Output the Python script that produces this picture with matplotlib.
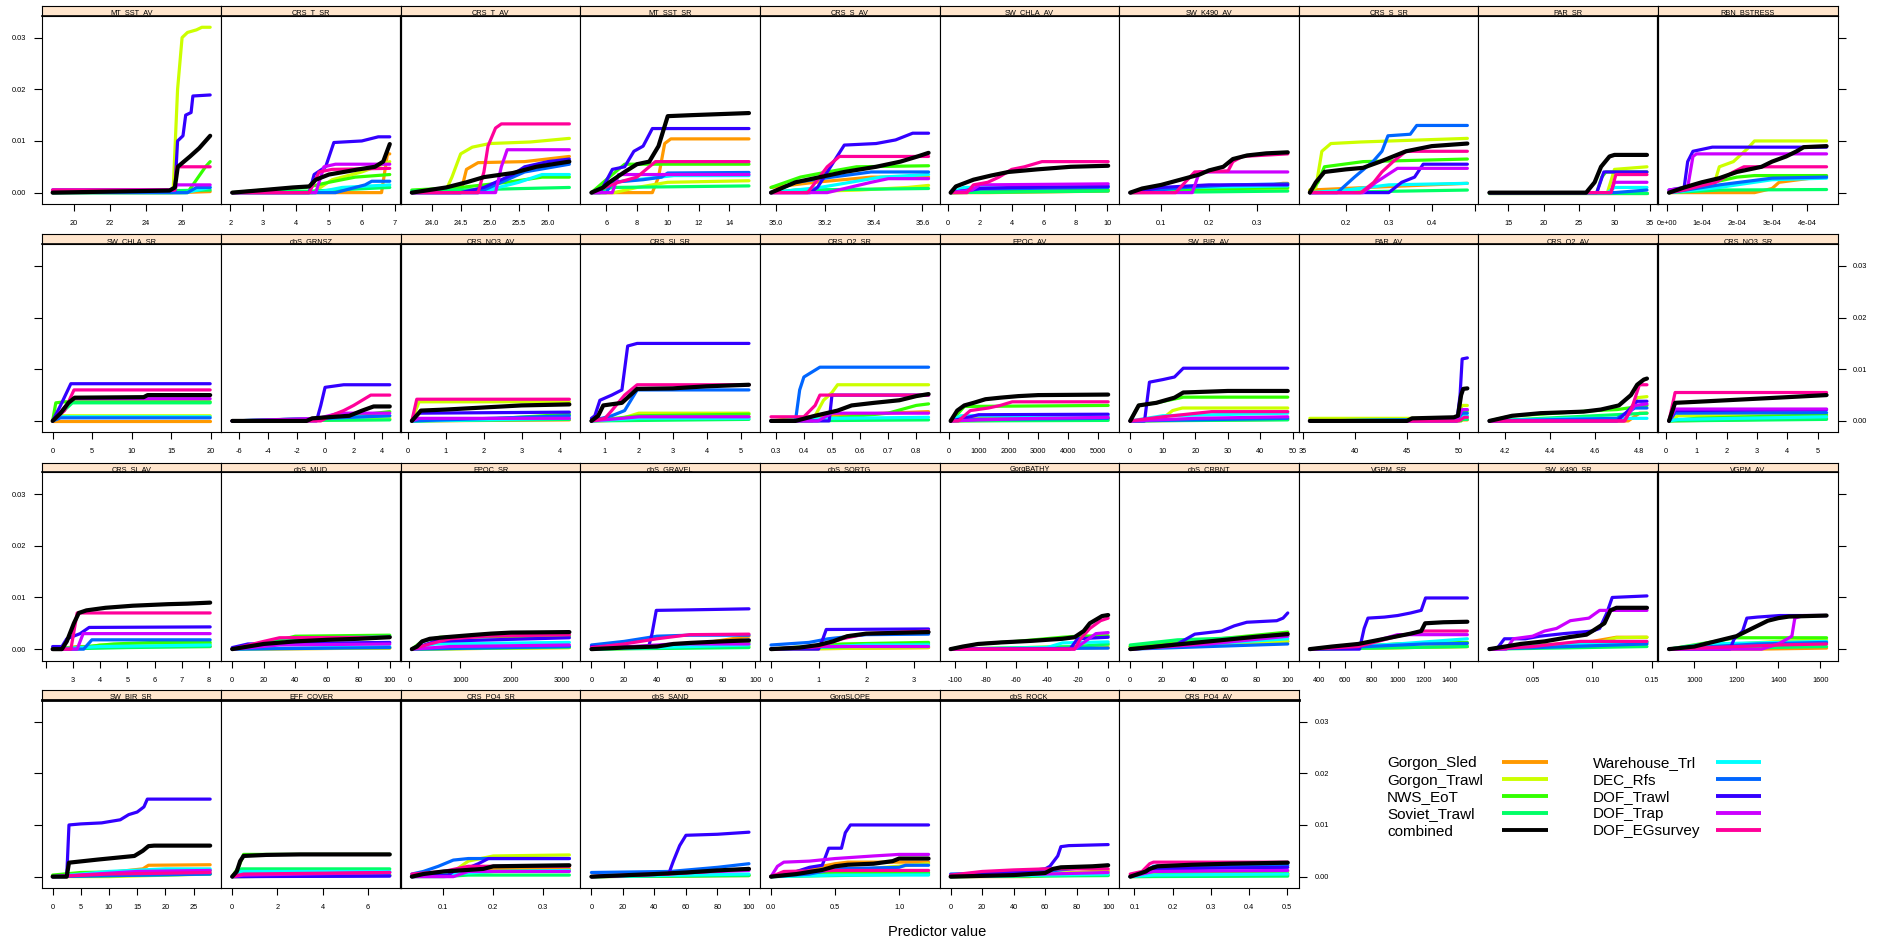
import matplotlib
matplotlib.use("Agg")
import matplotlib.pyplot as plt

plt.rcParams['font.family'] = ['Liberation Sans', 'DejaVu Sans']

# ---------------------------------------------------------------- series
SERIES = ["Gorgon_Sled", "Gorgon_Trawl", "NWS_EoT", "Soviet_Trawl", "Warehouse_Trl",
          "DEC_Rfs", "DOF_Trawl", "DOF_Trap", "DOF_EGsurvey", "combined"]
KEYS = ["sled", "gtrawl", "nws", "soviet", "ware", "dec", "doft", "trap", "egs", "comb"]
COLORS = ["#FF9900", "#CCFF00", "#33FF00", "#00FF66", "#00FFFF",
          "#0066FF", "#3300FF", "#CC00FF", "#FF0099", "#000000"]
Y_UNIT = 1e-3          # curve values below are in thousandths (cumulative importance)
Y_TICKS = ["0.00", "0.01", "0.02", "0.03"]

# ---------------------------------------------------------------- row 1
MT_SST_AV = dict(ticks=["20", "22", "24", "26"],
    sled=[(18.81, 0), (25.8, 0), (27.56, 0.2)],
    gtrawl=[(18.81, 0), (25.5, 0), (25.75, 20), (26.0, 30), (26.3, 31), (26.8, 31.5), (27.1, 32), (27.56, 32)],
    nws=[(18.81, 0), (26.3, 0), (27.3, 5), (27.56, 6)],
    soviet=[(18.81, 0), (27.56, 0.5)],
    ware=[(18.81, 0), (26.2, 0), (27.56, 1.0)],
    dec=[(18.81, 0), (26.3, 0), (26.8, 1), (27.56, 1)],
    doft=[(18.81, 0.5), (25.6, 0.5), (25.75, 10), (26.05, 11), (26.2, 15), (26.5, 15.5), (26.6, 18.7), (27.56, 18.9)],
    trap=[(18.81, 0.5), (25.6, 0.5), (25.7, 1.5), (27.56, 1.5)],
    egs=[(18.81, 0.5), (25.6, 0.5), (25.7, 5), (27.56, 5)],
    comb=[(18.81, 0), (25.3, 0.4), (25.6, 1), (25.76, 5), (26.44, 7), (26.95, 8.6), (27.56, 11)])

CRS_T_SR = dict(ticks=["2", "3", "4", "5", "6", "7"],
    sled=[(2.06, 0), (6.6, 0), (6.78, 7.5), (6.85, 7.5)],
    gtrawl=[(2.06, 0), (4.5, 0), (5.1, 2.5), (6.0, 4), (6.85, 6)],
    nws=[(2.06, 0), (3, 0.5), (4.3, 1), (5, 2), (5.8, 3), (6.85, 3.5)],
    soviet=[(2.06, 0), (4.5, 0.3), (6.85, 1)],
    ware=[(2.06, 0), (4.6, 0), (5.4, 1), (6.85, 1.5)],
    dec=[(2.06, 0), (5.2, 0), (6.1, 1.5), (6.3, 2.2), (6.85, 2.2)],
    doft=[(2.06, 0), (4.4, 0), (4.55, 3.5), (4.9, 5), (5.15, 9.7), (6.0, 10), (6.5, 10.8), (6.85, 10.8)],
    trap=[(2.06, 0), (4.6, 0), (4.85, 5), (5.2, 5.5), (6.85, 5.5)],
    egs=[(2.06, 0), (4.4, 0), (4.7, 4), (5.1, 4.5), (6.85, 4.7)],
    comb=[(2.06, 0), (3, 0.5), (3.9, 1), (4.4, 1.2), (4.6, 2.5), (5.0, 3.5), (5.9, 4.5), (6.4, 5), (6.65, 6), (6.85, 9.4)])

CRS_T_AV = dict(ticks=["24.0", "24.5", "25.0", "25.5", "26.0"],
    sled=[(23.66, 0), (24.5, 0), (24.6, 4.5), (24.8, 5.8), (25.6, 6), (26.37, 7)],
    gtrawl=[(23.66, 0), (24.25, 0.5), (24.35, 3), (24.5, 7.5), (24.7, 8.8), (25.0, 9.5), (25.7, 9.8), (26.37, 10.5)],
    nws=[(23.66, 0.5), (24.5, 1), (25.3, 2), (25.9, 3), (26.37, 3)],
    soviet=[(23.66, 0.3), (26.37, 1)],
    ware=[(23.66, 0), (24.8, 0), (25.5, 2), (25.9, 3.5), (26.37, 3.5)],
    dec=[(23.66, 0), (24.8, 0), (25.2, 2), (25.6, 4), (26.37, 5.5)],
    doft=[(23.66, 0), (24.5, 0), (24.9, 1), (25.4, 3.5), (25.6, 5), (26.0, 6), (26.37, 6.5)],
    trap=[(23.66, 0), (25.1, 0), (25.2, 5), (25.3, 8.3), (26.37, 8.3)],
    egs=[(23.66, 0), (24.8, 0), (24.9, 4), (24.97, 9), (25.1, 12.5), (25.2, 13.3), (26.37, 13.3)],
    comb=[(23.66, 0), (24.25, 1), (24.6, 2), (24.9, 3), (25.4, 3.8), (25.8, 5), (26.37, 6)])

MT_SST_SR = dict(ticks=["6", "8", "10", "12", "14"],
    sled=[(5.04, 0), (9.0, 0), (9.4, 3), (9.8, 9.5), (10.2, 10.4), (15.28, 10.4)],
    gtrawl=[(5.04, 0), (6.5, 0), (8, 1), (10, 2), (15.28, 2.3)],
    nws=[(5.04, 0), (6.2, 3), (7.2, 5.5), (15.28, 5.5)],
    soviet=[(5.04, 0), (6.4, 1), (15.28, 1.3)],
    ware=[(5.04, 0), (6.4, 2), (10.4, 3.3), (15.28, 3.3)],
    dec=[(5.04, 0), (6.0, 0), (6.4, 2), (8.4, 2.5), (9.6, 3), (10, 3.8), (15.28, 3.9)],
    doft=[(5.04, 0), (5.6, 0), (6.4, 4.5), (7.2, 5), (7.8, 8), (8.4, 9), (9, 12.4), (15.28, 12.4)],
    trap=[(5.04, 0), (6.4, 0), (6.8, 3.5), (15.28, 3.5)],
    egs=[(5.04, 0), (6.8, 2), (8, 3), (9.2, 6), (15.28, 6)],
    comb=[(5.04, 0), (5.8, 1), (6.2, 2), (7.2, 4), (8, 5.5), (8.8, 6), (9.4, 9), (10, 14.8), (11.6, 15), (15.28, 15.4)])

CRS_S_AV = dict(ticks=["35.0", "35.2", "35.4", "35.6"],
    sled=[(34.98, 1), (35.16, 2), (35.39, 3), (35.625, 3)],
    gtrawl=[(34.98, 0), (35.34, 0.5), (35.54, 1), (35.625, 1.4)],
    nws=[(34.98, 1), (35.1, 3), (35.21, 4), (35.33, 5), (35.625, 5.2)],
    soviet=[(34.98, 0), (35.08, 0.5), (35.625, 0.8)],
    ware=[(34.98, 0), (35.18, 1), (35.43, 3), (35.625, 3.5)],
    dec=[(34.98, 0), (35.08, 2), (35.23, 3), (35.39, 4), (35.625, 4)],
    doft=[(34.98, 0), (35.14, 0), (35.17, 1), (35.28, 9.2), (35.41, 9.5), (35.49, 10.2), (35.56, 11.5), (35.625, 11.5)],
    trap=[(34.98, 0), (35.21, 0), (35.39, 2), (35.46, 2.7), (35.625, 2.7)],
    egs=[(34.98, 0), (35.13, 0), (35.21, 5), (35.26, 7), (35.625, 7)],
    comb=[(34.98, 0), (35.08, 2), (35.18, 3), (35.28, 4), (35.41, 5), (35.51, 6), (35.58, 7), (35.625, 7.7)])

SW_CHLA_AV = dict(ticks=["0", "2", "4", "6", "8", "10"],
    sled=[(0.17, 0), (2.5, 0), (10.05, 0.3)],
    gtrawl=[(0.17, 0), (10.05, 0.5)],
    nws=[(0.17, 0), (10.05, 0.5)],
    soviet=[(0.17, 0), (10.05, 0.3)],
    ware=[(0.17, 0), (1, 1), (10.05, 1.3)],
    dec=[(0.17, 0), (2, 0.7), (10.05, 1)],
    doft=[(0.17, 0), (2, 0.8), (4, 1), (10.05, 1.2)],
    trap=[(0.17, 0), (1.5, 0.5), (2.0, 1.5), (10.05, 1.7)],
    egs=[(0.17, 0), (1.2, 0), (1.6, 1.5), (2.5, 2), (3.2, 3), (4.0, 4.5), (4.8, 5), (5.9, 6), (10.05, 6)],
    comb=[(0.17, 0), (0.5, 1.2), (1.6, 2.5), (2.7, 3.3), (3.8, 4), (5.6, 4.5), (7.7, 5), (10.05, 5.2)])

SW_K490_AV = dict(ticks=["0.1", "0.2", "0.3"],
    sled=[(0.035, 0), (0.25, 0.5), (0.355, 1.8), (0.365, 1.8)],
    gtrawl=[(0.035, 0), (0.365, 0.8)],
    nws=[(0.035, 0), (0.1, 0.5), (0.365, 1)],
    soviet=[(0.035, 0), (0.365, 0.3)],
    ware=[(0.035, 0), (0.15, 1), (0.365, 1.3)],
    dec=[(0.035, 0), (0.15, 1), (0.25, 1.5), (0.365, 1.7)],
    doft=[(0.035, 0), (0.1, 1), (0.2, 1.5), (0.365, 1.5)],
    trap=[(0.035, 0), (0.165, 0), (0.18, 4), (0.365, 4)],
    egs=[(0.035, 0), (0.13, 0), (0.15, 2), (0.17, 4), (0.24, 4.2), (0.25, 6), (0.27, 7), (0.365, 7.5)],
    comb=[(0.035, 0), (0.06, 0.8), (0.1, 1.5), (0.14, 2.5), (0.18, 3.5), (0.2, 4.3), (0.23, 5), (0.25, 6.5), (0.28, 7.2), (0.32, 7.6), (0.365, 7.8)])

CRS_S_SR = dict(ticks=["0.2", "0.3", "0.4"], blank=[0.5],
    sled=[(0.116, 0.5), (0.25, 1), (0.483, 1.8)],
    gtrawl=[(0.116, 0.5), (0.13, 1), (0.144, 8), (0.165, 9.5), (0.235, 9.8), (0.305, 10), (0.483, 10.5)],
    nws=[(0.116, 0), (0.135, 2), (0.15, 5), (0.24, 6), (0.483, 6.5)],
    soviet=[(0.116, 0), (0.483, 0.5)],
    ware=[(0.116, 0), (0.2, 0.5), (0.3, 1.5), (0.483, 1.8)],
    dec=[(0.116, 0), (0.18, 0), (0.22, 3), (0.263, 6), (0.284, 8), (0.298, 11), (0.35, 11.3), (0.365, 13), (0.483, 13)],
    doft=[(0.116, 0), (0.3, 0), (0.33, 2), (0.36, 3), (0.38, 5.5), (0.483, 5.5)],
    trap=[(0.116, 0), (0.24, 0), (0.27, 2), (0.32, 4.7), (0.483, 4.7)],
    egs=[(0.116, 0), (0.235, 0), (0.265, 2), (0.284, 4), (0.31, 6), (0.34, 8), (0.483, 8)],
    comb=[(0.116, 0), (0.13, 2), (0.15, 4), (0.2, 4.5), (0.24, 4.8), (0.28, 6), (0.34, 8), (0.4, 9), (0.483, 9.5)])

PAR_SR = dict(ticks=["15", "20", "25", "30", "35"],
    sled=[(12.34, 0), (34.59, 0)],
    gtrawl=[(12.34, 0), (29, 0), (30, 4.5), (34.59, 5)],
    nws=[(12.34, 0), (27.5, 0), (28.2, 3), (28.8, 4), (34.59, 4)],
    soviet=[(12.34, 0), (34.59, 0)],
    ware=[(12.34, 0), (29, 0), (30, 1), (34.59, 1)],
    dec=[(12.34, 0), (30, 0), (34.59, 0.5)],
    doft=[(12.34, 0), (27.5, 0), (28.5, 4), (34.59, 4)],
    trap=[(12.34, 0), (29.5, 0), (30, 2), (34.59, 2)],
    egs=[(12.34, 0), (29.5, 0), (30.2, 3.5), (34.59, 3.5)],
    comb=[(12.34, 0), (26, 0), (27.2, 2), (28.1, 5), (29.3, 7), (30, 7.3), (34.59, 7.3)])

RBN_BSTRESS = dict(ticks=["0e+00", "1e-04", "2e-04", "3e-04", "4e-04"],
    sled=[(0.07e-4, 0), (2.5e-4, 0), (3.0e-4, 0.8), (3.2e-4, 2), (4.55e-4, 3.2)],
    gtrawl=[(0.07e-4, 0), (1.3e-4, 0.5), (1.5e-4, 5), (1.9e-4, 6), (2.3e-4, 8.5), (2.5e-4, 10), (4.55e-4, 10)],
    nws=[(0.07e-4, 0), (1e-4, 1.5), (2e-4, 3), (2.5e-4, 3.3), (4.55e-4, 3.3)],
    soviet=[(0.07e-4, 0), (1.5e-4, 0.5), (4.55e-4, 0.6)],
    ware=[(0.07e-4, 0), (1.5e-4, 1), (3e-4, 2.5), (4.55e-4, 2.8)],
    dec=[(0.07e-4, 0), (1.5e-4, 1.5), (3e-4, 2.8), (4.55e-4, 3)],
    doft=[(0.07e-4, 0.5), (0.5e-4, 1), (0.6e-4, 6), (0.75e-4, 8), (1.3e-4, 8.8), (4.55e-4, 8.8)],
    trap=[(0.07e-4, 0.5), (0.6e-4, 1), (0.75e-4, 7), (0.85e-4, 7.5), (4.55e-4, 7.5)],
    egs=[(0.07e-4, 0), (0.5e-4, 0.5), (1.4e-4, 2), (1.9e-4, 4), (2.2e-4, 5), (4.55e-4, 5)],
    comb=[(0.07e-4, 0), (0.5e-4, 1), (1.0e-4, 2), (1.5e-4, 2.8), (2.0e-4, 4), (2.7e-4, 5), (3.0e-4, 6), (3.4e-4, 7), (3.7e-4, 8), (3.9e-4, 8.8), (4.55e-4, 9)])

# ---------------------------------------------------------------- row 2
SW_CHLA_SR = dict(ticks=["0", "5", "10", "15", "20"],
    sled=[(0, 0), (19.9, 0)],
    gtrawl=[(0, 0), (1, 1), (19.9, 1)],
    nws=[(0, 0), (0.4, 3.5), (1.5, 3.7), (19.9, 3.7)],
    soviet=[(0, 0), (2.5, 3.5), (19.9, 3.5)],
    ware=[(0, 0), (1, 0.8), (19.9, 0.8)],
    dec=[(0, 0), (1, 0.6), (19.9, 0.6)],
    doft=[(0, 0), (1.0, 3), (2.3, 7.2), (19.9, 7.2)],
    trap=[(0, 0), (2.5, 4.3), (19.9, 4.3)],
    egs=[(0, 0), (1.5, 2), (2.7, 6), (19.9, 6)],
    comb=[(0, 0), (1, 1.5), (2, 3.5), (2.8, 4.5), (11.5, 4.6), (12, 5), (19.9, 5)])

dbS_GRNSZ = dict(ticks=["-6", "-4", "-2", "0", "2", "4"],
    sled=[(-6.5, 0), (4.53, 0.3)],
    gtrawl=[(-6.5, 0), (1, 0.3), (4.53, 0.5)],
    nws=[(-6.5, 0), (0, 0.5), (2, 1), (4.53, 1.8)],
    soviet=[(-6.5, 0), (4.53, 0.2)],
    ware=[(-6.5, 0), (0, 0.5), (4.53, 1)],
    dec=[(-6.5, 0), (0, 0.5), (4.53, 1)],
    doft=[(-6.5, 0), (-0.6, 0), (-0.3, 3), (0, 6.5), (1.3, 7), (4.53, 7)],
    trap=[(-6.5, 0), (-0.5, 0.5), (1, 1.5), (4.53, 1.5)],
    egs=[(-6.5, 0), (-0.3, 0), (0.4, 1), (1.3, 2), (2, 3), (3.2, 5), (4.53, 5)],
    comb=[(-6.5, 0), (-1.3, 0), (-0.9, 0.5), (1.7, 1), (2.6, 2), (3.4, 2.8), (4.53, 2.8)])

CRS_NO3_AV = dict(ticks=["0", "1", "2", "3", "4"],
    sled=[(0.11, 0), (4.26, 0.2)],
    gtrawl=[(0.11, 0), (0.3, 3.7), (4.26, 3.7)],
    nws=[(0.11, 0), (2, 0.3), (4.26, 1.3)],
    soviet=[(0.11, 0), (4.26, 0.3)],
    ware=[(0.11, 0), (4.26, 0.5)],
    dec=[(0.11, 0), (4.26, 1)],
    doft=[(0.11, 0), (0.3, 1.5), (4.26, 1.7)],
    trap=[(0.11, 0), (0.3, 0.5), (4.26, 0.5)],
    egs=[(0.11, 0), (0.24, 4.2), (4.26, 4.2)],
    comb=[(0.11, 0), (0.35, 2), (1, 2.2), (2, 2.6), (3, 3), (4.26, 3.2)])

CRS_SI_SR = dict(ticks=["1", "2", "3", "4", "5"],
    sled=[(0.6, 0), (5.25, 0.8)],
    gtrawl=[(0.6, 0), (1.5, 0.5), (2, 1.5), (5.25, 1.5)],
    nws=[(0.6, 0), (2, 1), (5.25, 1.3)],
    soviet=[(0.6, 0), (5.25, 0.3)],
    ware=[(0.6, 0), (2, 0.5), (5.25, 0.5)],
    dec=[(0.6, 0), (1.2, 1), (1.58, 2), (1.95, 6), (5.25, 6)],
    doft=[(0.6, 0.5), (0.7, 1), (0.85, 4), (1.2, 5), (1.5, 6), (1.58, 10), (1.67, 14.5), (1.95, 15), (5.25, 15)],
    trap=[(0.6, 0), (1.5, 0.5), (2, 0.8), (5.25, 0.8)],
    egs=[(0.6, 0), (1.0, 0.5), (1.2, 2), (1.58, 5), (1.95, 7), (5.25, 7)],
    comb=[(0.6, 0), (0.8, 1), (0.95, 3), (1.5, 3.5), (1.95, 6.2), (3, 6.3), (4, 6.7), (5.25, 7)])

CRS_O2_SR = dict(ticks=["0.3", "0.4", "0.5", "0.6", "0.7", "0.8"],
    sled=[(0.283, 0), (0.45, 1), (0.844, 1.8)],
    gtrawl=[(0.283, 0), (0.43, 0), (0.47, 4), (0.5, 5.5), (0.52, 7), (0.844, 7)],
    nws=[(0.283, 0), (0.5, 0.5), (0.7, 1.5), (0.8, 3), (0.844, 3.3)],
    soviet=[(0.283, 0), (0.844, 0.2)],
    ware=[(0.283, 0), (0.5, 0.5), (0.844, 0.7)],
    dec=[(0.283, 0), (0.37, 0), (0.385, 6), (0.4, 8.5), (0.43, 9.5), (0.457, 10.4), (0.844, 10.4)],
    doft=[(0.283, 0), (0.49, 0), (0.5, 5), (0.844, 5)],
    trap=[(0.283, 0), (0.45, 0), (0.5, 1.5), (0.844, 1.5)],
    egs=[(0.283, 0.8), (0.4, 0.8), (0.44, 3), (0.457, 5), (0.844, 5)],
    comb=[(0.283, 0), (0.37, 0), (0.44, 1), (0.48, 1.5), (0.52, 2), (0.57, 3), (0.65, 3.5), (0.74, 4), (0.8, 4.8), (0.844, 5.2)])

EPOC_AV = dict(ticks=["0", "1000", "2000", "3000", "4000", "5000"],
    sled=[(60, 0), (600, 0.5), (5350, 0.5)],
    gtrawl=[(60, 0), (5350, 0.3)],
    nws=[(60, 0), (320, 1.5), (520, 2.8), (5350, 3)],
    soviet=[(60, 0), (5350, 0.1)],
    ware=[(60, 0), (400, 1), (5350, 1)],
    dec=[(60, 0), (1000, 0.3), (5350, 0.5)],
    doft=[(60, 0), (500, 0.5), (1000, 1.2), (5350, 1.3)],
    trap=[(60, 0), (1000, 0.2), (3000, 0.5), (5350, 0.7)],
    egs=[(60, 0), (320, 0), (520, 1), (720, 2), (1330, 2.5), (1730, 3), (2130, 3.7), (5350, 3.7)],
    comb=[(60, 0), (280, 2), (520, 3), (830, 3.5), (1230, 4.2), (1730, 4.5), (2330, 4.8), (3000, 5), (5350, 5.1)])

SW_BIR_AV = dict(ticks=["0", "10", "20", "30", "40", "50"],
    sled=[(0, 0), (48.4, 0.3)],
    gtrawl=[(0, 0), (10, 0.5), (13, 2), (16, 2.5), (48.4, 2.5)],
    nws=[(0, 0), (2.6, 3), (8, 3.5), (16.3, 4.6), (48.4, 4.6)],
    soviet=[(0, 0), (48.4, 0.2)],
    ware=[(0, 0), (10, 1), (48.4, 1.5)],
    dec=[(0, 0), (48.4, 0.5)],
    doft=[(0, 0), (4.4, 0), (5.9, 7.5), (10, 8), (13.6, 8.5), (16.3, 10.2), (48.4, 10.2)],
    trap=[(0, 0), (20, 0.5), (48.4, 0.8)],
    egs=[(0, 0), (10, 0.8), (25, 1.8), (48.4, 1.8)],
    comb=[(0, 0), (2.6, 3), (8, 3.5), (13.6, 4.5), (16.3, 5.5), (30, 5.8), (48.4, 5.8)])

PAR_AV = dict(ticks=["35", "40", "45", "50"],
    sled=[(35.7, 0), (50.8, 0.2)],
    gtrawl=[(35.7, 0.5), (49.8, 0.5), (50.3, 3), (50.8, 3)],
    nws=[(35.7, 0), (50.2, 0), (50.5, 2), (50.8, 2)],
    soviet=[(35.7, 0), (50.8, 0.3)],
    ware=[(35.7, 0), (50, 0.3), (50.5, 1), (50.8, 1)],
    dec=[(35.7, 0), (49.8, 0.3), (50.3, 1.5), (50.8, 1.5)],
    doft=[(35.7, 0), (49.8, 0), (50.1, 5), (50.3, 12), (50.8, 12.2)],
    trap=[(35.7, 0), (49.8, 0), (50.3, 2.2), (50.8, 2.2)],
    egs=[(35.7, 0), (50, 0), (50.5, 0.7), (50.8, 0.7)],
    comb=[(35.7, 0), (45, 0), (45.5, 0.5), (49.5, 0.7), (49.9, 1), (50.2, 5), (50.4, 6.2), (50.8, 6.3)])

CRS_O2_AV = dict(ticks=["4.2", "4.4", "4.6", "4.8"],
    sled=[(4.128, 0), (4.75, 0), (4.8, 1.5), (4.834, 1.5)],
    gtrawl=[(4.128, 0), (4.73, 0), (4.79, 4.5), (4.834, 4.7)],
    nws=[(4.128, 0), (4.23, 1), (4.357, 1.3), (4.6, 2), (4.7, 2.2), (4.834, 3)],
    soviet=[(4.128, 0), (4.834, 1.5)],
    ware=[(4.128, 0), (4.5, 0.5), (4.834, 0.5)],
    dec=[(4.128, 0), (4.7, 0.5), (4.78, 2.5), (4.834, 2.5)],
    doft=[(4.128, 0), (4.7, 0), (4.75, 2), (4.79, 3.8), (4.834, 3.8)],
    trap=[(4.128, 0), (4.73, 0), (4.78, 3), (4.834, 3.3)],
    egs=[(4.128, 0), (4.735, 0), (4.77, 3), (4.8, 7), (4.834, 7)],
    comb=[(4.128, 0), (4.23, 1), (4.357, 1.5), (4.55, 1.8), (4.627, 2.2), (4.708, 3), (4.762, 5), (4.79, 7), (4.82, 8), (4.834, 8.2)])

CRS_NO3_SR = dict(ticks=["0", "1", "2", "3", "4", "5"],
    sled=[(0.1, 0), (5.29, 0.5)],
    gtrawl=[(0.1, 0), (0.4, 1), (5.29, 1)],
    nws=[(0.1, 0), (1, 0.5), (5.29, 1.2)],
    soviet=[(0.1, 0), (5.29, 0.3)],
    ware=[(0.1, 0), (0.4, 0.3), (5.29, 0.8)],
    dec=[(0.1, 0), (0.3, 1.5), (5.29, 1.6)],
    doft=[(0.1, 0), (0.3, 2), (5.29, 2.2)],
    trap=[(0.1, 0), (0.3, 2.3), (5.29, 2.3)],
    egs=[(0.1, 0), (0.3, 5.5), (5.29, 5.5)],
    comb=[(0.1, 0), (0.3, 3.5), (1, 3.7), (2, 4), (3, 4.3), (4, 4.6), (5.29, 5)])

# ---------------------------------------------------------------- row 3
CRS_SI_AV = dict(ticks=["3", "4", "5", "6", "7", "8"], blank=[2],
    sled=[(2.26, 0), (3.2, 0.5), (8.04, 0.5)],
    gtrawl=[(2.26, 0), (3.5, 0.3), (4, 0.8), (8.04, 1)],
    nws=[(2.26, 0), (3.5, 0.5), (4.5, 1), (6, 1.3), (8.04, 1.3)],
    soviet=[(2.26, 0), (5, 0.3), (8.04, 0.5)],
    ware=[(2.26, 0), (4, 0.5), (8.04, 0.8)],
    dec=[(2.26, 0), (3.4, 0), (3.7, 1.8), (8.04, 1.8)],
    doft=[(2.26, 0.5), (2.6, 0.5), (2.78, 2), (3.27, 3), (3.6, 4.2), (8.04, 4.3)],
    trap=[(2.26, 0), (3.16, 0), (3.38, 3), (8.04, 3)],
    egs=[(2.26, 0), (2.93, 0), (3.16, 7), (8.04, 7)],
    comb=[(2.26, 0), (2.6, 0), (2.78, 1.5), (3.04, 5), (3.22, 7), (3.5, 7.5), (4.2, 8), (5.2, 8.4), (6.5, 8.7), (7.2, 8.8), (8.04, 9)])

dbS_MUD = dict(ticks=["0", "20", "40", "60", "80", "100"],
    sled=[(0, 0), (100, 0.2)],
    gtrawl=[(0, 0), (40, 0.1), (100, 0.2)],
    nws=[(0, 0), (20, 1), (40, 2.5), (100, 2.7)],
    soviet=[(0, 0), (30, 2), (100, 2.5)],
    ware=[(0, 0), (100, 0.5)],
    dec=[(0, 0), (100, 0.3)],
    doft=[(0, 0.3), (10, 1), (100, 1.3)],
    trap=[(0, 0), (30, 0.8), (100, 1)],
    egs=[(0, 0), (20, 1.5), (30, 2.2), (100, 2.3)],
    comb=[(0, 0), (10, 0.5), (20, 1), (40, 1.5), (60, 1.8), (80, 2), (100, 2.3)])

EPOC_SR = dict(ticks=["0", "1000", "2000", "3000"],
    sled=[(48, 0), (3144, 0.3)],
    gtrawl=[(48, 0), (3144, 0.3)],
    nws=[(48, 0), (250, 1.5), (600, 2.3), (3144, 2.5)],
    soviet=[(48, 0), (3144, 0.4)],
    ware=[(48, 0), (500, 1), (3144, 1.3)],
    dec=[(48, 0), (3144, 0.5)],
    doft=[(48, 0), (500, 1.5), (3144, 2.2)],
    trap=[(48, 0), (800, 0.5), (3144, 0.8)],
    egs=[(48, 0), (400, 1), (800, 2), (1500, 2.5), (3144, 2.8)],
    comb=[(48, 0), (150, 0.5), (250, 1.5), (400, 2), (700, 2.3), (1200, 2.7), (1600, 3), (2000, 3.2), (3144, 3.3)])

dbS_GRAVEL = dict(ticks=["0", "20", "40", "60", "80", "100"],
    sled=[(0, 0), (50, 0.3), (96.2, 2.5)],
    gtrawl=[(0, 0), (96.2, 0.5)],
    nws=[(0, 0), (60, 1), (96.2, 1.3)],
    soviet=[(0, 0), (96.2, 0.3)],
    ware=[(0, 0), (96.2, 0.8)],
    dec=[(0, 0.8), (20, 1.5), (40, 2.5), (60, 2.7), (96.2, 2.7)],
    doft=[(0, 0.5), (35, 0.5), (37, 3), (39.6, 7.5), (60, 7.6), (96.2, 7.8)],
    trap=[(0, 0), (50, 1), (96.2, 1)],
    egs=[(0, 0.3), (20, 1), (40, 2), (60, 2.8), (96.2, 2.9)],
    comb=[(0, 0), (20, 0.3), (40, 0.5), (50, 1), (60, 1.2), (80, 1.5), (96.2, 1.7)])

dbS_SORTG = dict(ticks=["0", "1", "2", "3"],
    sled=[(0, 0), (3.31, 0.3)],
    gtrawl=[(0, 0), (3.31, 0.3)],
    nws=[(0, 0), (1.5, 1), (3.31, 1.3)],
    soviet=[(0, 0), (3.31, 1)],
    ware=[(0, 0), (2, 0.8), (3.31, 0.8)],
    dec=[(0, 0.8), (0.8, 1.3), (1.2, 2), (2, 2.8), (3.31, 2.9)],
    doft=[(0, 0), (1.0, 0), (1.09, 2), (1.16, 3.8), (3.31, 3.9)],
    trap=[(0, 0), (1, 0.5), (3.31, 0.5)],
    egs=[(0, 0), (1, 0.5), (1.5, 2), (2, 3), (3.31, 3.5)],
    comb=[(0, 0), (0.6, 0.3), (1, 0.8), (1.3, 1.5), (1.6, 2.5), (2, 3), (3.31, 3.3)])

GorgBATHY = dict(ticks=["-100", "-80", "-60", "-40", "-20", "0"],
    sled=[(-103, 0), (0, 0.3)],
    gtrawl=[(-103, 0), (-20, 0.5), (0, 0.8)],
    nws=[(-103, 0), (-85, 1), (-60, 1.5), (-30, 2.3), (-20, 2.5), (0, 2.6)],
    soviet=[(-103, 0), (-20, 0.5), (0, 1)],
    ware=[(-103, 0), (-40, 0.3), (-30, 1.2), (0, 1.4)],
    dec=[(-103, 0), (0, 0.2)],
    doft=[(-103, 0), (-25, 0), (-20, 2), (0, 2.3)],
    trap=[(-103, 0), (-22, 0), (-15, 1.5), (-8, 3), (0, 3.2)],
    egs=[(-103, 0), (-22, 0), (-18, 2), (-12, 4), (-5, 5.5), (0, 6)],
    comb=[(-103, 0), (-95, 0.5), (-85, 1), (-70, 1.3), (-50, 1.6), (-30, 2), (-22, 2.3), (-16, 3.5), (-12, 5), (-4, 6.4), (0, 6.6)])

dbS_CRBNT = dict(ticks=["0", "20", "40", "60", "80", "100"],
    sled=[(0, 0.5), (50, 0.8), (100, 1.5)],
    gtrawl=[(0, 0.5), (100, 1.5)],
    nws=[(0, 0.5), (40, 1.5), (100, 3.3)],
    soviet=[(0, 0.8), (30, 1.8), (100, 2.5)],
    ware=[(0, 0), (100, 2)],
    dec=[(0, 0), (100, 1)],
    doft=[(0, 0), (30, 1), (41, 2.9), (58, 3.5), (66, 4.5), (74, 5.2), (93, 5.5), (97, 6), (100, 7)],
    trap=[(0, 0), (50, 1), (100, 2.5)],
    egs=[(0, 0), (40, 1), (100, 3)],
    comb=[(0, 0), (20, 0.6), (40, 1.2), (60, 1.8), (80, 2.4), (100, 2.9)])

VGPM_SR = dict(ticks=["400", "600", "800", "1000", "1200", "1400"],
    sled=[(331, 0), (1532, 0.5)],
    gtrawl=[(331, 0), (1532, 0.5)],
    nws=[(331, 0), (1000, 1), (1532, 1.3)],
    soviet=[(331, 0), (1532, 0.5)],
    ware=[(331, 0), (1000, 1), (1532, 2)],
    dec=[(331, 0), (1200, 1), (1532, 1.1)],
    doft=[(331, 0), (710, 0), (745, 4), (774, 6), (900, 6.2), (1000, 6.5), (1100, 7), (1180, 7.5), (1213, 9.9), (1532, 9.9)],
    trap=[(331, 0), (750, 1), (1000, 2.8), (1532, 2.8)],
    egs=[(331, 0), (700, 0.5), (1000, 2.5), (1200, 3.5), (1532, 3.5)],
    comb=[(331, 0), (500, 0.5), (700, 1), (900, 2), (1100, 3), (1180, 3.5), (1210, 5), (1350, 5.2), (1532, 5.3)])

SW_K490_SR = dict(ticks=["0.05", "0.10", "0.15"],
    sled=[(0.014, 0), (0.1, 1.5), (0.12, 2.3), (0.1455, 2.3)],
    gtrawl=[(0.014, 0), (0.1, 1), (0.12, 2.2), (0.1455, 2.3)],
    nws=[(0.014, 0), (0.08, 1), (0.1455, 1.3)],
    soviet=[(0.014, 0), (0.1455, 0.5)],
    ware=[(0.014, 0), (0.08, 1), (0.1455, 1.3)],
    dec=[(0.014, 0), (0.1455, 1)],
    doft=[(0.014, 0), (0.02, 0), (0.0265, 2), (0.044, 2), (0.056, 2.5), (0.076, 3), (0.1, 3.5), (0.106, 4), (0.112, 7), (0.1165, 10), (0.1455, 10.3)],
    trap=[(0.014, 0), (0.028, 0), (0.034, 2), (0.05, 2.5), (0.06, 3.5), (0.07, 4), (0.0815, 5.5), (0.097, 6), (0.106, 7.5), (0.1455, 7.5)],
    egs=[(0.014, 0), (0.05, 0.5), (0.09, 1.5), (0.1455, 1.5)],
    comb=[(0.014, 0), (0.04, 1), (0.06, 1.5), (0.08, 2.3), (0.095, 2.8), (0.1, 3.5), (0.11, 5), (0.115, 7.5), (0.12, 8), (0.1455, 8)])

VGPM_AV = dict(ticks=["1000", "1200", "1400", "1600"],
    sled=[(880, 0), (1300, 0), (1629, 0.2)],
    gtrawl=[(880, 0), (1200, 1), (1400, 1.5), (1629, 1.8)],
    nws=[(880, 0), (1100, 1.5), (1200, 2.2), (1629, 2.2)],
    soviet=[(880, 0), (1629, 0.5)],
    ware=[(880, 0), (1050, 1), (1629, 1.5)],
    dec=[(880, 0), (1300, 1), (1629, 1.3)],
    doft=[(880, 0), (1170, 0), (1190, 2), (1230, 3.5), (1250, 6), (1300, 6.2), (1407, 6.5), (1629, 6.5)],
    trap=[(880, 0), (1320, 0), (1400, 1), (1464, 2.5), (1478, 6), (1520, 6.5), (1629, 6.5)],
    egs=[(880, 0), (1400, 0.8), (1629, 1)],
    comb=[(880, 0), (1000, 0.5), (1100, 1.5), (1200, 2.5), (1250, 3.5), (1300, 4.5), (1350, 5.5), (1400, 6), (1450, 6.3), (1629, 6.5)])

# ---------------------------------------------------------------- row 4
SW_BIR_SR = dict(ticks=["0", "5", "10", "15", "20", "25"],
    sled=[(0, 0), (10, 0.8), (16, 1.5), (17, 2.2), (27.95, 2.3)],
    gtrawl=[(0, 0), (10, 0), (27.95, 0.5)],
    nws=[(0, 0.3), (5, 0.8), (27.95, 1.2)],
    soviet=[(0, 0), (27.95, 0.5)],
    ware=[(0, 0), (10, 1), (20, 1.5), (27.95, 1.5)],
    dec=[(0, 0), (27.95, 0.5)],
    doft=[(0, 0), (2.5, 0), (2.9, 10), (5, 10.2), (8.7, 10.4), (12, 11), (13.5, 12), (15, 12.5), (16.2, 13.5), (16.8, 15), (27.95, 15)],
    trap=[(0, 0), (15, 1), (27.95, 1.2)],
    egs=[(0, 0), (10, 0.5), (27.95, 0.8)],
    comb=[(0, 0), (2.5, 0), (2.9, 2.7), (8, 3.3), (14.5, 4), (16, 5), (17, 5.9), (18, 6), (27.95, 6)])

EFF_COVER = dict(ticks=["0", "2", "4", "6"],
    sled=[(0, 0), (6.96, 0.3)],
    gtrawl=[(0, 0), (6.96, 0.3)],
    nws=[(0, 0), (0.3, 2), (0.5, 4.3), (6.96, 4.3)],
    soviet=[(0, 0), (0.4, 1.5), (6.96, 1.5)],
    ware=[(0, 0), (0.4, 1), (6.96, 1)],
    dec=[(0, 0), (6.96, 0.2)],
    doft=[(0, 0), (6.96, 0.1)],
    trap=[(0, 0), (0.5, 0.3), (6.96, 0.8)],
    egs=[(0, 0), (0.5, 0.5), (6.96, 0.8)],
    comb=[(0, 0), (0.2, 1), (0.35, 3), (0.5, 4), (1.5, 4.2), (3, 4.3), (6.96, 4.3)])

CRS_PO4_SR = dict(ticks=["0.1", "0.2", "0.3"],
    sled=[(0.037, 0), (0.15, 1), (0.2, 1.5), (0.352, 1.5)],
    gtrawl=[(0.037, 0), (0.12, 1), (0.15, 3), (0.2, 4), (0.352, 4.2)],
    nws=[(0.037, 0), (0.2, 1), (0.352, 1.2)],
    soviet=[(0.037, 0), (0.1, 0), (0.15, 0.3), (0.352, 0.3)],
    ware=[(0.037, 0), (0.2, 1), (0.352, 1.2)],
    dec=[(0.037, 0.5), (0.06, 1), (0.09, 2), (0.12, 3.2), (0.15, 3.5), (0.352, 3.5)],
    doft=[(0.037, 0), (0.11, 0.3), (0.12, 1), (0.145, 1.5), (0.17, 2.5), (0.19, 3.5), (0.352, 3.5)],
    trap=[(0.037, 0), (0.12, 0), (0.15, 1), (0.352, 1)],
    egs=[(0.037, 0.5), (0.1, 1), (0.15, 2), (0.352, 2)],
    comb=[(0.037, 0), (0.06, 0.5), (0.1, 1), (0.15, 1.3), (0.18, 1.5), (0.2, 2), (0.352, 2.2)])

dbS_SAND = dict(ticks=["0", "20", "40", "60", "80", "100"],
    sled=[(0, 0), (100, 0.2)],
    gtrawl=[(0, 0), (100, 0.3)],
    nws=[(0, 0), (100, 0.3)],
    soviet=[(0, 0), (100, 0.2)],
    ware=[(0, 0), (100, 0.5)],
    dec=[(0, 0.8), (50, 1), (80, 1.8), (100, 2.5)],
    doft=[(0, 0), (49, 0.5), (52, 3), (56, 6), (60, 8), (80, 8.2), (100, 8.6)],
    trap=[(0, 0), (60, 0.8), (100, 1.2)],
    egs=[(0, 0), (50, 0.5), (100, 1.5)],
    comb=[(0, 0), (40, 0.5), (60, 0.8), (80, 1.2), (100, 1.5)])

GorgSLOPE = dict(ticks=["0.0", "0.5", "1.0"],
    sled=[(0, 0), (0.3, 1.5), (0.5, 2.5), (0.6, 2.8), (1.23, 2.8)],
    gtrawl=[(0, 0), (0.5, 1), (1.23, 2.5)],
    nws=[(0, 0), (0.5, 0.8), (1.23, 0.8)],
    soviet=[(0, 0), (1.23, 0.5)],
    ware=[(0, 0), (0.5, 0.3), (1.23, 0.3)],
    dec=[(0, 0), (0.3, 0.5), (0.5, 1.5), (1.0, 1.8), (1.05, 2.2), (1.23, 2.2)],
    doft=[(0, 0), (0.1, 0.3), (0.2, 1), (0.3, 1.8), (0.4, 2.2), (0.45, 5.5), (0.55, 5.5), (0.58, 8.5), (0.62, 10), (1.23, 10)],
    trap=[(0, 0), (0.05, 2), (0.1, 2.8), (0.3, 3), (0.5, 3.5), (0.8, 4), (1.0, 4.3), (1.23, 4.3)],
    egs=[(0, 0), (0.1, 1), (0.5, 1.2), (1.23, 1.2)],
    comb=[(0, 0), (0.2, 0.5), (0.4, 1.3), (0.5, 2), (0.6, 2.3), (0.8, 2.5), (0.95, 3), (1.0, 3.5), (1.23, 3.5)])

dbS_ROCK = dict(ticks=["0", "20", "40", "60", "80", "100"],
    sled=[(0, 0), (50, 0), (100, 1.2)],
    gtrawl=[(0, 0), (100, 1)],
    nws=[(0, 0), (100, 0.3)],
    soviet=[(0, 0), (100, 0.2)],
    ware=[(0, 0), (100, 0.5)],
    dec=[(0, 0.5), (60, 1), (100, 2.2)],
    doft=[(0, 0.3), (40, 0.8), (60, 1.5), (63, 2), (68, 4), (70, 5.8), (75, 6), (100, 6.2)],
    trap=[(0, 0), (60, 0.5), (100, 0.8)],
    egs=[(0, 0.3), (20, 1), (40, 1.3), (60, 1.5), (100, 1.5)],
    comb=[(0, 0), (40, 0.3), (60, 0.7), (65, 1.5), (70, 1.8), (90, 2), (100, 2.2)])

CRS_PO4_AV = dict(ticks=["0.1", "0.2", "0.3", "0.4", "0.5"],
    sled=[(0.089, 0), (0.502, 0.3)],
    gtrawl=[(0.089, 0), (0.15, 0.8), (0.502, 1)],
    nws=[(0.089, 0), (0.2, 0.5), (0.502, 0.6)],
    soviet=[(0.089, 0), (0.502, 0.1)],
    ware=[(0.089, 0), (0.15, 0.3), (0.502, 0.5)],
    dec=[(0.089, 0), (0.13, 1), (0.15, 2), (0.502, 2.2)],
    doft=[(0.089, 0), (0.15, 1.5), (0.502, 1.8)],
    trap=[(0.089, 0), (0.15, 1), (0.502, 1.2)],
    egs=[(0.089, 0.5), (0.12, 1), (0.14, 2.5), (0.15, 2.8), (0.502, 2.8)],
    comb=[(0.089, 0), (0.11, 0.5), (0.13, 1), (0.14, 1.5), (0.16, 2), (0.25, 2.3), (0.35, 2.5), (0.502, 2.7)])

LAYOUT = [
    [("MT_SST_AV", MT_SST_AV), ("CRS_T_SR", CRS_T_SR), ("CRS_T_AV", CRS_T_AV), ("MT_SST_SR", MT_SST_SR),
     ("CRS_S_AV", CRS_S_AV), ("SW_CHLA_AV", SW_CHLA_AV), ("SW_K490_AV", SW_K490_AV), ("CRS_S_SR", CRS_S_SR),
     ("PAR_SR", PAR_SR), ("RBN_BSTRESS", RBN_BSTRESS)],
    [("SW_CHLA_SR", SW_CHLA_SR), ("dbS_GRNSZ", dbS_GRNSZ), ("CRS_NO3_AV", CRS_NO3_AV), ("CRS_SI_SR", CRS_SI_SR),
     ("CRS_O2_SR", CRS_O2_SR), ("EPOC_AV", EPOC_AV), ("SW_BIR_AV", SW_BIR_AV), ("PAR_AV", PAR_AV),
     ("CRS_O2_AV", CRS_O2_AV), ("CRS_NO3_SR", CRS_NO3_SR)],
    [("CRS_SI_AV", CRS_SI_AV), ("dbS_MUD", dbS_MUD), ("EPOC_SR", EPOC_SR), ("dbS_GRAVEL", dbS_GRAVEL),
     ("dbS_SORTG", dbS_SORTG), ("GorgBATHY", GorgBATHY), ("dbS_CRBNT", dbS_CRBNT), ("VGPM_SR", VGPM_SR),
     ("SW_K490_SR", SW_K490_SR), ("VGPM_AV", VGPM_AV)],
    [("SW_BIR_SR", SW_BIR_SR), ("EFF_COVER", EFF_COVER), ("CRS_PO4_SR", CRS_PO4_SR), ("dbS_SAND", dbS_SAND),
     ("GorgSLOPE", GorgSLOPE), ("dbS_ROCK", dbS_ROCK), ("CRS_PO4_AV", CRS_PO4_AV)],
]

# ---------------------------------------------------------------- figure
W, H = 1881, 944
fig = plt.figure(figsize=(W / 100, H / 100), dpi=100)
fig.patch.set_facecolor("white")

LEFT, COLW = 41.6, 179.6
STRIP_TOPS = [6.0, 234.3, 462.5, 690.0]
STRIP_H, PANEL_H = 9.7, 188.5
PAD = 0.07


def fig_rect(x0, y0, w, h):
    return [x0 / W, 1 - (y0 + h) / H, w / W, h / H]


ymax = max(v for _, d in sum(LAYOUT, []) for k in KEYS for _, v in d[k]) * Y_UNIT
ylim = (0 - PAD * ymax, ymax + PAD * ymax)
LW = 2.3
LW_COMB = 3.0

for r, row in enumerate(LAYOUT):
    ncol = len(row)
    for c, (name, d) in enumerate(row):
        x0 = LEFT + c * COLW
        top = STRIP_TOPS[r]
        ax = fig.add_axes(fig_rect(x0, top + STRIP_H, COLW, PANEL_H))
        xs_all = [x for k in KEYS for x, _ in d[k]]
        lo, hi = min(xs_all), max(xs_all)
        span = hi - lo
        ax.set_xlim(lo - PAD * span, hi + PAD * span)
        ax.set_ylim(*ylim)
        for key, col in zip(KEYS, COLORS):
            xs = [p[0] for p in d[key]]
            ys = [p[1] * Y_UNIT for p in d[key]]
            ax.plot(xs, ys, color=col, lw=LW_COMB if key == "comb" else LW,
                    solid_joinstyle="round", solid_capstyle="round", zorder=3)
        # x ticks
        tick_vals = [float(t) for t in d["ticks"]] + list(d.get("blank", []))
        tick_labs = list(d["ticks"]) + [""] * len(d.get("blank", []))
        ax.set_xticks(tick_vals)
        ax.set_xticklabels(tick_labs)
        ax.tick_params(axis="x", direction="out", length=5, width=0.8, pad=6.5,
                       labelsize=5.3, top=False, bottom=True)
        # y ticks
        ax.set_yticks([float(t) for t in Y_TICKS])
        ax.set_yticklabels(Y_TICKS)
        first, last = c == 0, c == ncol - 1
        lab_left = r in (0, 2)
        ax.tick_params(axis="y", direction="out", length=5.7, width=0.8, pad=5.5,
                       labelsize=5.3, left=first, right=last,
                       labelleft=first and lab_left, labelright=last and not lab_left)
        for sp in ax.spines.values():
            sp.set_linewidth(0.8)
            sp.set_color("#000000")
        if c in (2, 9):
            ax.spines["left"].set_linewidth(1.6)
        # strip
        st = fig.add_axes(fig_rect(x0, top, COLW, STRIP_H))
        st.set_facecolor("#FFE5CC")
        st.set_xticks([])
        st.set_yticks([])
        for sp in st.spines.values():
            sp.set_linewidth(0.8)
        st.spines["bottom"].set_linewidth(2.0 if r == 3 else 1.2)
        st.text(0.5, 0.1, name, ha="center", va="baseline", fontsize=5.3,
                transform=st.transAxes, clip_on=True)

# overall x label
fig.text(937 / W, 1 - 932 / H, "Predictor value", ha="center", va="center", fontsize=10.5)

# legend (key) drawn in pixel coordinates
ov = fig.add_axes([0, 0, 1, 1], facecolor="none")
ov.set_xlim(0, W)
ov.set_ylim(H, 0)
ov.axis("off")
LEG_COLS = [(["sled", "gtrawl", "nws", "soviet", "comb"], 1387, 1502, 1547.5),
            (["ware", "dec", "doft", "trap", "egs"], 1592.5, 1715.5, 1761)]
LEG_Y = [762, 779, 796, 812.5, 830]
for keys, tx, l0, l1 in LEG_COLS:
    for key, ly in zip(keys, LEG_Y):
        i = KEYS.index(key)
        ov.plot([l0, l1], [ly, ly], color=COLORS[i], lw=2.8, solid_capstyle="butt")
        ov.text(tx, ly + 5.5, SERIES[i], ha="left", va="baseline", fontsize=11)

fig.savefig("out.png", dpi=100, facecolor="white")
